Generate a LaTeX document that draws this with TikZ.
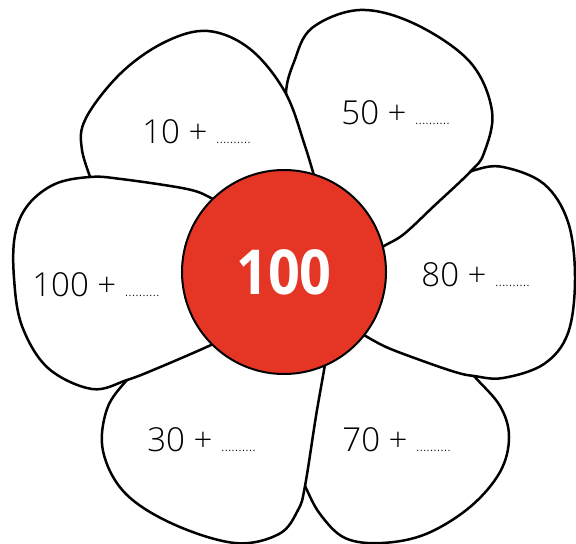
\documentclass[tikz,border=0pt]{standalone}
\usepackage{fontspec}
\setmainfont{Open Sans}
\newfontfamily\heartfont[FakeStretch=0.9]{Open Sans Bold}
\newfontfamily\sumfont{Open Sans Light}
\usepackage{xcolor}
\usepackage{tikz}
\usetikzlibrary{positioning}
\definecolor{flowerred}{RGB}{229,53,37}
\newcommand{\blankdots}{{\fontsize{7.3}{8}\selectfont ..........}}

\begin{document}
\begin{tikzpicture}[x=0.5pt, y=-0.5pt,
    petal/.style={draw=black, fill=white, line width=1.25pt, line join=round},
    heart/.style={circle, draw=black, fill=flowerred, line width=1pt, minimum size=102pt, inner sep=0pt, text=white, font=\heartfont\fontsize{31}{34}\selectfont},
    sum_label/.style={anchor=base west, inner sep=0pt, font=\sumfont\fontsize{16.5}{18}\selectfont}
]
    \useasboundingbox (0,0) rectangle (576,544);

    % --- Petals (back to front) ---
    % Bottom right
    \filldraw[petal] plot[smooth, tension=0.6] coordinates {(452,350) (474,376) (500,406) (509,437) (500,472) (470,507) (426,534) (382,543) (345,538) (320,514) (305,486) (296,466)} -- (300,340) -- (400,328) -- cycle;
    % Right
    \filldraw[petal] plot[smooth, tension=0.6] coordinates {(455,180) (475,170) (503,167) (544,184) (568,222) (575,278) (568,333) (544,364) (503,378) (474,376) (455,372) (420,360) (386,347) (364,335)} -- (330,290) -- (370,225) -- cycle;
    % Top right
    \filldraw[petal] plot[smooth, tension=0.6] coordinates {(292,135) (286,94) (294,62) (312,28) (360,10) (415,24) (470,62) (492,111) (484,153) (470,172) (434,206) (404,234) (384,246) (370,255)} -- (284,272) -- cycle;
    % Top left
    \filldraw[petal] plot[smooth, tension=0.6] coordinates {(96,192) (82,150) (86,118) (121,73) (165,42) (208,31) (250,49) (285,92) (305,146) (318,190)} -- (284,272) -- (150,205) -- cycle;
    % Bottom left
    \filldraw[petal] plot[smooth, tension=0.6] coordinates {(326,350) (325,364) (316,416) (305,486) (298,510) (279,534) (235,543) (173,524) (125,493) (103,451) (107,409) (127,380) (145,365)} -- (230,320) -- cycle;
    % Left
    \filldraw[petal] plot[smooth, tension=0.6] coordinates {(222,205) (211,198) (187,189) (121,179) (90,177) (55,184) (28,205) (15,235) (14,278) (22,326) (48,368) (92,389) (127,380) (158,368) (211,345) (222,338)} -- cycle;

    % --- Centre ---
    \node[heart] (centre) at (284,272) {100};

    % --- Sums ---
    \node[sum_label] (sum10) at (142,144) {10 + \blankdots};
    \node[sum_label] (sum50) at (341,125) {50 + \blankdots};
    \node[sum_label] (sum100) at (32,297) {100 + \blankdots};
    \node[sum_label] (sum80) at (421,286) {80 + \blankdots};
    \node[sum_label] (sum30) at (147,451) {30 + \blankdots};
    \node[sum_label] (sum70) at (342,451) {70 + \blankdots};

\end{tikzpicture}
\end{document}
